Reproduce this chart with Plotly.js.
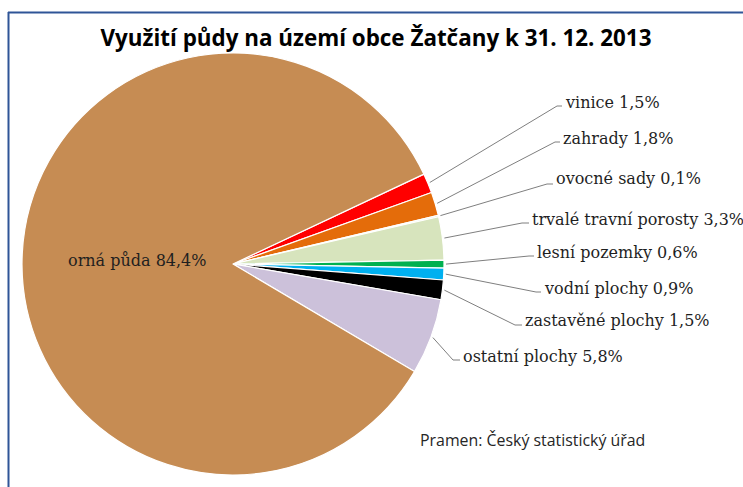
<!DOCTYPE html>
<html>
<head>
<meta charset="utf-8">
<script src="https://cdn.plot.ly/plotly-3.0.1.min.js"></script>
<style>html,body{margin:0;padding:0;background:#fff;}#chart{width:743px;height:487px;}</style>
</head>
<body>
<div id="chart"></div>
<script>
// ---- data ----
const categories = ["vinice", "zahrady", "ovocné sady", "trvalé travní porosty", "lesní pozemky", "vodní plochy", "zastavěné plochy", "ostatní plochy", "orná půda"];
const shares = [1.5, 1.8, 0.1, 3.3, 0.6, 0.9, 1.5, 5.8, 84.4];
const sliceColors = ["#FF0000", "#E46C0A", "#C3D69B", "#D7E4BD", "#00B050", "#00B0F0", "#000000", "#CCC1DA", "#C68C53"];
const titleText = "Využití půdy na území obce Žatčany k 31. 12. 2013";
const sourceText = "Pramen: Český statistický úřad";

// ---- layout positions (pixels) ----
const W = 743, H = 487;
const cx = 233, cy = 264, R = 211;
const rotation = 64.8;
const labelX = [563, 561, 554, 530, 535, 542, 523, 461];
const labelY = [103, 138, 179, 219, 252, 288, 320, 356];
const elbowX = [557, 555, 547, 522, 529, 536, 515, 453];
const elbowY = [106, 142, 184, 223, 256, 292, 325, 360];

const px = x => x / W;
const py = y => 1 - y / H;
const fmt = v => v.toFixed(1).replace(".", ",") + "%";

const total = shares.reduce((a, b) => a + b, 0);
const shapes = [];
const annotations = [];
const labelFont = {family: "DejaVu Serif", size: 16, color: "#1F1F1F"};
let cum = 0;
shares.forEach((v, i) => {
  const mid = rotation + 360 * (cum + v / 2) / total;
  cum += v;
  if (i >= labelX.length) return;
  const a = mid * Math.PI / 180;
  const sx = cx + (R + 2) * Math.sin(a);
  const sy = cy - (R + 2) * Math.cos(a);
  shapes.push({type: "path", xref: "paper", yref: "paper",
    path: `M${px(sx)},${py(sy)} L${px(elbowX[i])},${py(elbowY[i])} L${px(labelX[i] - 1)},${py(elbowY[i])}`,
    line: {color: "#7F7F7F", width: 1}});
  annotations.push({xref: "paper", yref: "paper", x: px(labelX[i]), y: py(labelY[i]),
    xanchor: "left", yanchor: "middle", showarrow: false,
    text: categories[i] + " " + fmt(v), font: labelFont});
});
// inside label for the largest slice
annotations.push({xref: "paper", yref: "paper", x: px(137), y: py(260), xanchor: "center", yanchor: "middle",
  showarrow: false, text: categories[8] + " " + fmt(shares[8]), font: labelFont});
annotations.push({xref: "paper", yref: "paper", x: px(418), y: py(440), xanchor: "left", yanchor: "middle",
  showarrow: false, text: sourceText, font: {family: "Open Sans", size: 15.9, color: "#262626"}});

// frame lines
shapes.push({type: "line", xref: "paper", yref: "paper", x0: px(8), x1: 1, y0: py(12.5), y1: py(12.5), line: {color: "#2F5597", width: 2}});
shapes.push({type: "line", xref: "paper", yref: "paper", x0: px(8.5), x1: px(8.5), y0: py(12), y1: 0, line: {color: "#2F5597", width: 2}});

const trace = {
  type: "pie",
  labels: categories,
  values: shares,
  sort: false,
  direction: "clockwise",
  rotation: rotation,
  textinfo: "none",
  hoverinfo: "label+percent",
  marker: {colors: sliceColors, line: {color: "#FFFFFF", width: 1.2}},
  domain: {x: [px(cx - R), px(cx + R)], y: [py(cy + R), py(cy - R)]},
  showlegend: false
};

const layout = {
  width: W, height: H,
  margin: {l: 0, r: 0, t: 0, b: 0},
  paper_bgcolor: "#FFFFFF",
  title: {text: "<b>" + titleText + "</b>", x: px(376), xref: "paper", xanchor: "center",
    y: py(38), yref: "container", yanchor: "middle",
    font: {family: "Open Sans", size: 22.4, color: "#000000"}},
  shapes: shapes,
  annotations: annotations,
  showlegend: false
};

Plotly.newPlot("chart", [trace], layout, {displayModeBar: false, staticPlot: true});
</script>
</body>
</html>
